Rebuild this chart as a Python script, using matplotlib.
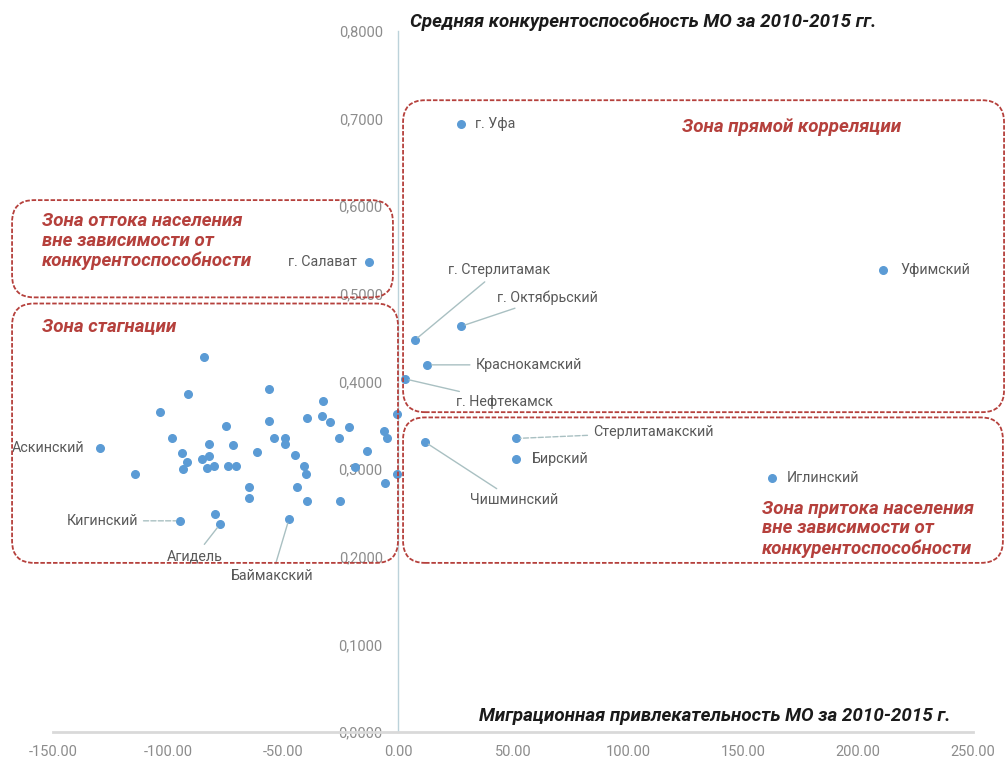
import numpy as np
import matplotlib
matplotlib.use("Agg")
from matplotlib import pyplot as plt
from matplotlib.patches import FancyBboxPatch
from matplotlib.transforms import IdentityTransform
from matplotlib.ticker import FuncFormatter, MultipleLocator

plt.rcParams['font.family'] = ['Roboto', 'DejaVu Sans']

# подписанные МО
names = ['г. Уфа', 'г. Салават', 'Уфимский', 'г. Стерлитамак', 'г. Октябрьский',
         'Краснокамский', 'г. Нефтекамск', 'Стерлитамакский', 'Бирский', 'Чишминский',
         'Иглинский', 'Аскинский', 'Кигинский', 'Агидель', 'Баймакский']
names_x = [27.4, -12.6, 210.9, 7.2, 27.4, 12.8, 3.0, 51.3, 51.3, 11.7,
           162.6, -129.6, -94.8, -77.4, -47.4]
names_y = [0.694, 0.536, 0.527, 0.447, 0.463, 0.419, 0.403, 0.335, 0.312, 0.331,
           0.290, 0.324, 0.241, 0.237, 0.243]

# остальные МО (без подписей)
other_x = [-84.2, -56.0, -91.4, -32.7, -103.5, -56.1, -39.4, -33.2, -29.6, -74.9,
           -21.2, -0.6, -6.0, -4.9, -98.1, -82.0, -71.6, -53.8, -49.0, -49.0,
           -25.7, -94.0, -82.0, -85.3, -91.9, -93.6, -82.9, -80.0, -73.8, -70.4,
           -61.4, -44.7, -40.7, -40.0, -13.6, -18.7, -0.6, -114.3, -64.7, -64.7,
           -44.0, -39.4, -25.2, -5.7, -79.6]
other_y = [0.428, 0.391, 0.386, 0.378, 0.365, 0.355, 0.358, 0.361, 0.354, 0.349,
           0.348, 0.363, 0.344, 0.336, 0.335, 0.329, 0.328, 0.336, 0.336, 0.329,
           0.336, 0.318, 0.315, 0.311, 0.308, 0.300, 0.301, 0.304, 0.304, 0.304,
           0.319, 0.316, 0.303, 0.295, 0.321, 0.302, 0.295, 0.295, 0.280, 0.267,
           0.280, 0.264, 0.264, 0.284, 0.249]

# смещение подписей (пикс.), выравнивание, линия-выноска
label_pos = {
    'г. Уфа': (14, 0, 'left', None),
    'г. Салават': (-12, 0, 'right', None),
    'Уфимский': (17, 0, 'left', None),
    'г. Стерлитамак': (33, 70, 'left', '-'),
    'г. Октябрьский': (36, 29, 'left', '-'),
    'Краснокамский': (48, 0, 'left', '-'),
    'г. Нефтекамск': (51, -23, 'left', '-'),
    'Стерлитамакский': (77, 6, 'left', '--'),
    'Бирский': (16, 0, 'left', None),
    'Чишминский': (45, -58, 'left', '-'),
    'Иглинский': (15, 0, 'left', None),
    'Аскинский': (-15, 0, 'right', None),
    'Кигинский': (-42, 0, 'right', '--'),
    'Агидель': (-25, -32, 'center', '-'),
    'Баймакский': (-17, -57, 'center', '-'),
}

# зоны: (x0, x1, y0, y1) в единицах осей
zones = [
    (2.2, 263.5, 0.365, 0.721),
    (-167.8, -2.2, 0.496, 0.607),
    (-167.8, 0.0, 0.193, 0.489),
    (2.2, 263.0, 0.193, 0.359),
]

zone_red = '#b5403c'
dot = '#5b9bd5'
lead = '#a9c0c2'
gray = '#8c8c8c'

fig = plt.figure(figsize=(10.06, 7.59), dpi=100)
ax = fig.add_axes([53 / 1006, 27 / 759, 920 / 1006, 701 / 759])
ax.set_xlim(-150, 250)
ax.set_ylim(0, 0.8)

for s in ['top', 'right']:
    ax.spines[s].set_visible(False)
ax.spines['left'].set_position(('data', 0))
ax.spines['left'].set_color('#bcd2da')
ax.spines['left'].set_linewidth(1.0)
ax.spines['bottom'].set_color('#d9d9d9')
ax.spines['bottom'].set_linewidth(2.0)
ax.spines['bottom'].set_linestyle((0, (2, 1)))

ax.xaxis.set_major_locator(MultipleLocator(50))
ax.yaxis.set_major_locator(MultipleLocator(0.1))
ax.xaxis.set_major_formatter(FuncFormatter(lambda v, p: f'{v:.2f}'))
ax.yaxis.set_major_formatter(FuncFormatter(lambda v, p: f'{v:.4f}'.replace('.', ',')))
ax.tick_params(axis='x', length=0, pad=9, labelsize=10.5, labelcolor=gray)
ax.tick_params(axis='y', length=0, pad=11, labelsize=10.5, labelcolor=gray)

ax.scatter(other_x, other_y, s=30, color=dot, zorder=3, clip_on=False)
ax.scatter(names_x, names_y, s=30, color=dot, zorder=3, clip_on=False)

for n, x, y in zip(names, names_x, names_y):
    dx, dy, ha, ls = label_pos[n]
    arrow = None
    if ls:
        arrow = dict(arrowstyle='-', color=lead, lw=1.0, linestyle=ls,
                     shrinkA=2, shrinkB=3)
    ax.annotate(n, (x, y), xytext=(dx, dy), textcoords='offset pixels',
                ha=ha, va='center', fontsize=10.3, color='#595959',
                arrowprops=arrow, annotation_clip=False)

# зоны
fig.canvas.draw()
for x0, x1, y0, y1 in zones:
    (px0, py0) = ax.transData.transform((x0, y0))
    (px1, py1) = ax.transData.transform((x1, y1))
    box = FancyBboxPatch((px0, py0), px1 - px0, py1 - py0,
                         boxstyle='round,pad=0,rounding_size=22',
                         transform=IdentityTransform(), fill=False,
                         edgecolor=zone_red, lw=1.3, linestyle=(0, (2.5, 1)))
    fig.patches.append(box)

zt = dict(color=zone_red, fontsize=13.5, fontweight='bold', fontstyle='italic',
          va='center', linespacing=1.12)
ax.text(123.5, 0.690, 'Зона прямой корреляции', ha='left', **zt)
ax.text(-154.8, 0.56, 'Зона оттока населения\nвне зависимости от\nконкурентоспособности',
        ha='left', **zt)
ax.text(-154.8, 0.463, 'Зона стагнации', ha='left', **zt)
ax.text(158.3, 0.232, 'Зона притока населения\nвне зависимости от\nконкурентоспособности',
        ha='left', **zt)

ax.text(5.2, 0.810, 'Средняя конкурентоспособность МО за 2010-2015 гг.', ha='left',
        va='center', fontsize=13.5, fontweight='bold', fontstyle='italic', color='#1a1a1a')
ax.text(240, 0.018, 'Миграционная привлекательность МО за 2010-2015 г.', ha='right',
        va='center', fontsize=13.5, fontweight='bold', fontstyle='italic', color='#1a1a1a')

plt.savefig('out.png', dpi=100)
